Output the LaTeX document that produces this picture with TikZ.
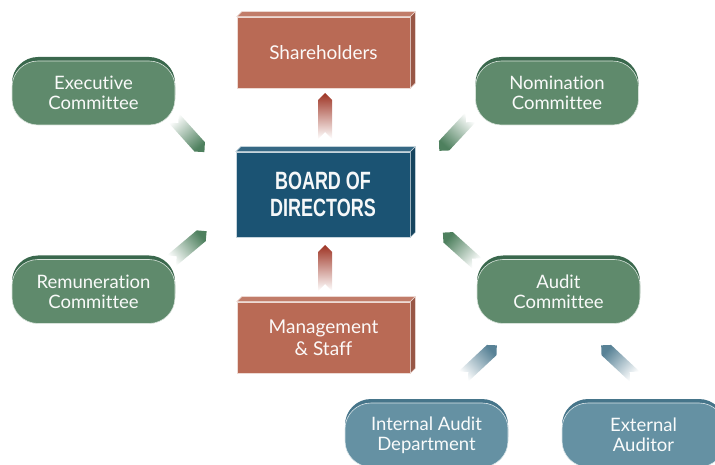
\documentclass[tikz,border=0pt]{standalone}
\usepackage{fontspec}
\setmainfont{Lato}[Ligatures={NoCommon}]
\newfontfamily\boardfont[FakeStretch=0.72]{Liberation Sans}
\usetikzlibrary{shapes.symbols,shadows,calc}

\definecolor{brick}{RGB}{185,106,85}
\definecolor{brickdark}{RGB}{158,52,36}
\definecolor{navy}{RGB}{27,83,115}
\definecolor{sage}{RGB}{95,138,108}
\definecolor{sagerim}{RGB}{58,104,77}
\definecolor{sagedark}{RGB}{78,128,94}
\definecolor{steel}{RGB}{101,145,163}
\definecolor{steelrim}{RGB}{70,117,138}
\definecolor{steeldark}{RGB}{88,130,150}

\tikzset{
  cube/.style={fill=#1, draw=white!75!#1, line width=0.6pt, text=white!96!#1,
    inner sep=0pt, align=center, font=\fontsize{19}{22}\selectfont},
  redbox/.style={cube=brick, minimum width=173pt, minimum height=71pt},
  boardbox/.style={cube=navy, minimum width=174pt, minimum height=85pt,
    font=\boardfont\bfseries\fontsize{25}{27}\selectfont},
  pill/.style 2 args={rounded corners=26pt, fill=#1, draw=white!75!#1, line width=0.6pt,
    general shadow={fill=#2, shadow yshift=4pt},
    minimum width=163pt, minimum height=64pt, inner sep=0pt,
    text=white!96!#1, align=center, font=\fontsize{18.5}{20}\selectfont},
  greenpill/.style={pill={sage}{sagerim}},
  bluepill/.style={pill={steel}{steelrim}},
  chev/.style 2 args={signal, signal to=east, signal from=west, signal pointer angle=90,
    minimum width=46pt, minimum height=14pt, inner sep=0pt, rotate=#2,
    top color=#1, bottom color=white, shading angle={#2-90}}
}

\newcommand{\boxsides}[2]{%
  \filldraw[fill=#2!88!white, draw=white!75!#2, line width=0.5pt]
    (#1.north west) -- ++(5,-5) -- ($(#1.north east)+(5,-5)$) -- (#1.north east) -- cycle;
  \filldraw[fill=#2!82!black, draw=white!75!#2, line width=0.5pt]
    (#1.north east) -- ($(#1.north east)+(5,-5)$) -- ($(#1.south east)+(5,-5)$) -- (#1.south east) -- cycle;
}

\begin{document}
\begin{tikzpicture}[x=1pt,y=-1pt]
  \useasboundingbox (0,0) rectangle (715,465);
  \clip (0,0) rectangle (715,465);

  % centre column
  \draw (323.5,52.5) node[redbox] (share) {Shareholders};
  \boxsides{share}{brick}
  \draw (323,194.5) node[boardbox] (board) {BOARD OF\\DIRECTORS};
  \boxsides{board}{navy}
  \draw (323.5,337.5) node[redbox] (mgmt) {Management\\\& Staff};
  \boxsides{mgmt}{brick}

  % committees
  \draw (93.5,93) node[greenpill] (exec) {Executive\\Committee};
  \draw (557,93) node[greenpill] (nom) {Nomination\\Committee};
  \draw (93.5,291.5) node[greenpill] (rem) {Remuneration\\Committee};
  \draw (558.5,291.5) node[greenpill] (audit) {Audit\\Committee};
  \draw (426.5,435) node[bluepill] (intaudit) {Internal Audit\\Department};
  \draw (643.5,435) node[bluepill] (extaudit) {External\\Auditor};

  % pointers
  \draw (325,116) node[chev={brickdark}{90}] (a-share) {};
  \draw (325,268) node[chev={brickdark}{90}] (a-mgmt) {};
  \draw (189,135) node[chev={sagedark}{-48}] (a-exec) {};
  \draw (455,134) node[chev={sagedark}{-133}] (a-nom) {};
  \draw (189,246) node[chev={sagedark}{40}] (a-rem) {};
  \draw (460,248) node[chev={sagedark}{138}] (a-audit) {};
  \draw (480,361) node[chev={steeldark}{43}] (a-int) {};
  \draw (618,361) node[chev={steeldark}{137}] (a-ext) {};
\end{tikzpicture}
\end{document}
